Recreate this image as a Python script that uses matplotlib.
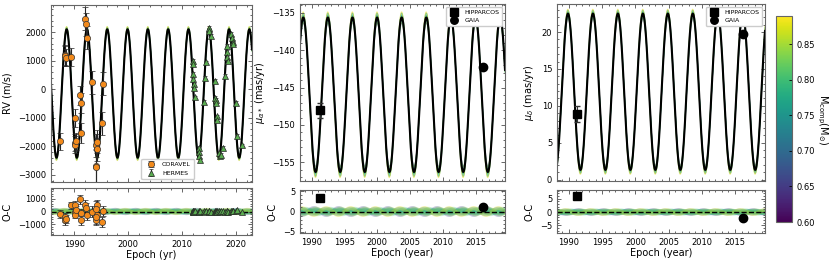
import numpy as np
import matplotlib
matplotlib.use("Agg")
import matplotlib.pyplot as plt
from matplotlib.ticker import AutoMinorLocator, MultipleLocator

# ---- orbit model (best fit) ----
period = 3.757          # yr
rv_peak, rv_K, rv_gamma = 1988.6, 2250.0, -150.0
pmra_peak, pmra_amp, pmra_mid = 1988.7, 10.35, -145.95
pmdec_peak, pmdec_amp, pmdec_mid = 1989.85, 10.6, 11.9

# posterior draws: companion mass and relative amplitude deviation
sample_mass = [0.66, 0.72, 0.74, 0.75, 0.76, 0.77, 0.78, 0.80, 0.84, 0.88]
sample_dev = [-1.0, 0.8, -0.6, 0.4, -0.2, 0.3, -0.5, 0.7, -0.9, 1.0]
sample_dt = [0.02, -0.015, 0.01, -0.02, 0.005, 0.015, -0.01, 0.02, -0.005, -0.02]
rv_spread, pmra_spread, pmdec_spread = 100.0, 0.75, 0.6

# ---- CORAVEL radial velocities ----
cor_t = [1987.3, 1988.2, 1988.3, 1988.4, 1989.4, 1990.05, 1990.15, 1990.2, 1990.25,
         1991.1, 1991.3, 1991.2, 1992.05, 1992.2, 1992.45, 1993.35, 1994.0, 1994.15,
         1994.3, 1994.05, 1993.95, 1995.2, 1995.35]
cor_rv = [-1830, 1200, 1150, 1100, 1130, -1010, -1880, -1950, -1820,
          -220, -490, -1530, 2470, 2280, 1800, 250, -1970, -1840,
          -2100, -2680, -2740, -1190, 200]
cor_err = [300, 350, 350, 300, 300, 300, 300, 300, 300,
           350, 350, 350, 400, 400, 400, 400, 400, 400,
           400, 600, 600, 400, 400]
cor_oc = [-220, -470, -700, -600, 480, 520, 0, -250, 150,
          950, -150, -700, 520, 250, -250, 0, -650, 520,
          -300, 200, -400, -800, 50]

# ---- HERMES radial velocities ----
her_t = [2011.9, 2011.95, 2012.0, 2012.05, 2012.1, 2012.15, 2012.4,
         2013.05, 2013.1, 2013.15, 2013.2, 2014.0, 2014.2, 2014.3,
         2014.85, 2014.9, 2014.95, 2015.3, 2016.0, 2016.1, 2016.15, 2016.25,
         2016.4, 2016.5, 2016.8, 2017.0, 2017.2, 2017.45, 2017.9,
         2018.2, 2018.25, 2018.35, 2018.4, 2019.0, 2019.15, 2019.3, 2019.4,
         2019.9, 2020.2, 2021.1]
her_rv = [1000, 880, 530, 350, 170, 60, -290,
          -2050, -2200, -2350, -2480, -450, 410, 940,
          2100, 2140, 2050, 1880, 290, -300, -380, -500,
          -950, -1070, -2250, -2350, -2300, -2050, 470,
          1530, 1300, 1120, 1000, 1940, 1800, 1650, 1590,
          -470, -1640, -1970]
her_err = [60] * len(her_t)
her_oc = [40, -30, 20, -50, 30, -20, 10,
          -40, 30, -60, 20, 50, -30, 20,
          40, -20, 30, -40, 20, -30, 50, -20,
          30, -40, 20, -50, 10, 40, -30,
          50, -20, 30, -40, 60, 20, 40, 30,
          50, 80, -60]

# ---- proper motions ----
hip_t, gaia_t = 1991.25, 2016.2
hip_pmra, hip_pmra_err, gaia_pmra = -148.0, 1.0, -142.2
hip_pmra_oc, gaia_pmra_oc = 3.3, 1.0
hip_pmdec, hip_pmdec_err, gaia_pmdec = 8.9, 1.1, 19.7
hip_pmdec_oc, gaia_pmdec_oc = 5.9, -2.4

cmap = plt.get_cmap("viridis")
norm = plt.Normalize(0.60, 0.89)

W, H = 830, 264
fig = plt.figure(figsize=(W / 100, H / 100), dpi=100)


def box(l, t, r, b):
    return [l / W, 1 - b / H, (r - l) / W, (b - t) / H]


def style(ax, xmin, xmax):
    ax.set_xlim(xmin, xmax)
    ax.tick_params(which="both", direction="in", top=True, right=True,
                   labelsize=6, color="0.3", width=0.6)
    ax.tick_params(which="major", length=3)
    ax.tick_params(which="minor", length=1.5)
    ax.xaxis.set_minor_locator(AutoMinorLocator())
    ax.yaxis.set_minor_locator(AutoMinorLocator())
    for s in ax.spines.values():
        s.set_color("0.4")
        s.set_linewidth(0.8)


def curve(t, peak, amp, mid):
    return mid + amp * np.cos(2 * np.pi * (t - peak) / period)


def draw_model(ax, axr, t, peak, amp, mid, spread):
    best = curve(t, peak, amp, mid)
    for m, d, dt in zip(sample_mass, sample_dev, sample_dt):
        samp = curve(t, peak + dt, amp + spread * d, mid)
        ax.plot(t, samp, color=cmap(norm(m)), lw=0.7, alpha=0.5, zorder=1)
        axr.plot(t, samp - best, color=cmap(norm(m)), lw=3.0, alpha=0.3, zorder=1)
    ax.plot(t, best, color="black", lw=1.5, zorder=2)
    axr.axhline(0, color="black", ls="--", lw=1.0, zorder=2)


# ---------- RV panel ----------
xl1 = (1985.7, 2022.9)
ax1 = fig.add_axes(box(51, 5, 252, 182))
ax1r = fig.add_axes(box(51, 188, 252, 235))
t1 = np.linspace(*xl1, 3000)
draw_model(ax1, ax1r, t1, rv_peak, rv_K, rv_gamma, rv_spread)
ax1.errorbar(cor_t, cor_rv, yerr=cor_err, fmt="o", ms=4.5, mfc="#f28a1c", mec="0.2",
             mew=0.5, ecolor="0.15", elinewidth=0.8, capsize=2, capthick=0.8,
             label="CORAVEL", zorder=4)
ax1.errorbar(her_t, her_rv, yerr=her_err, fmt="^", ms=4.5, mfc="#5aac50", mec="0.15",
             mew=0.5, ecolor="0.15", elinewidth=0.8, capsize=1.5, capthick=0.8,
             label="HERMES", zorder=3)
ax1r.errorbar(cor_t, cor_oc, yerr=cor_err, fmt="o", ms=4.5, mfc="#f28a1c", mec="0.2",
              mew=0.5, ecolor="0.15", elinewidth=0.8, capsize=2, capthick=0.8, zorder=4)
ax1r.errorbar(her_t, her_oc, yerr=her_err, fmt="^", ms=4.5, mfc="#5aac50", mec="0.15",
              mew=0.5, ecolor="0.15", elinewidth=0.8, capsize=1.5, capthick=0.8, zorder=3)
ax1.set_ylim(-3250, 2950)
ax1r.set_ylim(-1850, 1850)
ax1.yaxis.set_major_locator(MultipleLocator(1000))
ax1r.yaxis.set_major_locator(MultipleLocator(1000))
ax1.set_ylabel("RV (m/s)", fontsize=7)
ax1r.set_ylabel("O-C", fontsize=7)
ax1r.set_xlabel("Epoch (yr)", fontsize=7, labelpad=1)
ax1.legend(loc="lower center", bbox_to_anchor=(0.58, 0.0), fontsize=4.5,
           handletextpad=0.8, borderpad=0.5, framealpha=1, edgecolor="0.8")
for a in (ax1, ax1r):
    style(a, *xl1)
    a.xaxis.set_major_locator(MultipleLocator(10))
ax1.tick_params(labelbottom=False)

# ---------- proper motion panels ----------
xl2 = (1988.2, 2019.5)
t2 = np.linspace(*xl2, 3000)
panels = [
    ((300, 4, 505, 181), (300, 190, 505, 233), pmra_peak, pmra_amp, pmra_mid, pmra_spread,
     hip_pmra, hip_pmra_err, gaia_pmra, hip_pmra_oc, gaia_pmra_oc,
     (-157.5, -133.8), (-5.3, 5.3), r"$\mu_{\alpha*}$ (mas/yr)"),
    ((557, 4, 765, 181), (557, 190, 765, 233), pmdec_peak, pmdec_amp, pmdec_mid, pmdec_spread,
     hip_pmdec, hip_pmdec_err, gaia_pmdec, hip_pmdec_oc, gaia_pmdec_oc,
     (-0.2, 23.8), (-7.8, 8.2), r"$\mu_{\delta}$ (mas/yr)"),
]
for (mb, rb, pk, amp, mid, spr, hv, he, gv, hoc, goc, yl, ylr, lab) in panels:
    ax = fig.add_axes(box(*mb))
    axr = fig.add_axes(box(*rb))
    draw_model(ax, axr, t2, pk, amp, mid, spr)
    h_hip = ax.errorbar([hip_t], [hv], yerr=[he], fmt="s", ms=6, color="black",
                        ecolor="0.2", elinewidth=0.8, capsize=2.5, label="HIPPARCOS", zorder=4)
    h_gaia, = ax.plot([gaia_t], [gv], "o", ms=6, color="black", label="GAIA", zorder=4)
    axr.errorbar([hip_t], [hoc], yerr=[0.5], fmt="s", ms=6, color="black",
                 ecolor="0.2", elinewidth=0.8, capsize=2.5, zorder=4)
    axr.plot([gaia_t], [goc], "o", ms=6, color="black", zorder=4)
    ax.set_ylim(*yl)
    axr.set_ylim(*ylr)
    ax.yaxis.set_major_locator(MultipleLocator(5))
    axr.yaxis.set_major_locator(MultipleLocator(5))
    ax.set_ylabel(lab, fontsize=7)
    axr.set_ylabel("O-C", fontsize=7)
    axr.set_xlabel("Epoch (year)", fontsize=7, labelpad=1)
    ax.legend(handles=[h_hip, h_gaia], labels=["HIPPARCOS", "GAIA"], loc="upper right",
              fontsize=4.5, handletextpad=0.6, borderpad=0.4,
              framealpha=1, edgecolor="0.8", markerscale=0.9)
    for a in (ax, axr):
        style(a, *xl2)
        a.xaxis.set_major_locator(MultipleLocator(5))
    ax.tick_params(labelbottom=False)

# ---------- colorbar ----------
cax = fig.add_axes(box(776, 16, 792, 222))
sm = plt.cm.ScalarMappable(norm=norm, cmap=cmap)
cb = fig.colorbar(sm, cax=cax, ticks=[0.60, 0.65, 0.70, 0.75, 0.80, 0.85])
cb.ax.tick_params(labelsize=6, direction="in", length=2, width=0.6)
cb.outline.set_edgecolor("0.4")
cb.set_label(r"M$_{\rm comp}$(M$_{\odot}$)", fontsize=7, rotation=270, labelpad=10)

fig.savefig("out.png", dpi=100)
